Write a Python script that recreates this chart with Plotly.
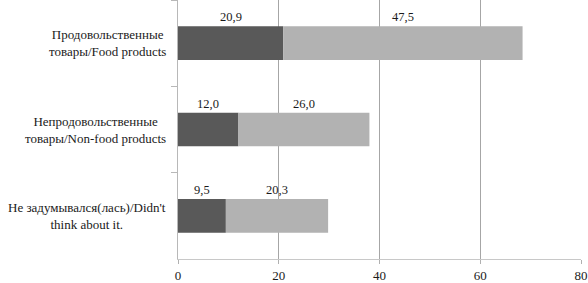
import plotly.graph_objects as go

categories = ["Продовольственные<br>товары/Food products",
              "Непродовольственные<br>товары/Non-food products",
              "Не задумывался(лась)/Didn't<br>think about it."]
series_a = [20.9, 12.0, 9.5]
series_b = [47.5, 26.0, 20.3]
x_ticks = [0, 20, 40, 60, 80]

dark = "#595959"
light = "#b2b2b2"
font = "Liberation Serif"

def fmt(v):
    return f"{v:.1f}".replace(".", ",")

fig = go.Figure()
fig.add_trace(go.Bar(y=categories, x=series_a, orientation="h",
                     marker=dict(color=dark, line=dict(width=0)), showlegend=False,
                     hoverinfo="skip"))
fig.add_trace(go.Bar(y=categories, x=series_b, base=series_a, orientation="h",
                     marker=dict(color=light, line=dict(width=0)), showlegend=False,
                     hoverinfo="skip"))

annotations = []
for c, a, b in zip(categories, series_a, series_b):
    annotations.append(dict(x=a / 2, y=c, text=fmt(a), showarrow=False,
                            yshift=26, font=dict(size=12.5, color="#1a1a1a", family=font)))
    annotations.append(dict(x=a + b / 2, y=c, text=fmt(b), showarrow=False,
                            yshift=26, font=dict(size=12.5, color="#1a1a1a", family=font)))
    annotations.append(dict(x=0, xref="paper", y=c, text=c, showarrow=False,
                            xanchor="right", align="center", xshift=-10,
                            font=dict(size=13, color="#1a1a1a", family=font)))

fig.update_layout(
    width=588, height=283,
    margin=dict(l=178, r=7, t=0, b=21),
    paper_bgcolor="white", plot_bgcolor="white",
    barmode="overlay", bargap=0.61,
    font=dict(family=font, size=13, color="#1a1a1a"),
    annotations=annotations,
    xaxis=dict(range=[0, 80], tickvals=x_ticks, showgrid=True, gridcolor="#a6a6a6",
               gridwidth=1, zeroline=False, showline=True, linecolor="#c8c8c8",
               ticks="outside", ticklen=4, tickcolor="#b0b0b0",
               tickfont=dict(size=13, family=font, color="#1a1a1a")),
    yaxis=dict(categoryorder="array", categoryarray=categories, autorange="reversed",
               showticklabels=False, showline=True, linecolor="#b8b8b8",
               ticks="outside", tickson="boundaries", ticklen=6, tickcolor="#b8b8b8",
               showgrid=False, zeroline=False),
)

fig.write_html("out.html", config={"displayModeBar": False},
               post_script="document.body.style.margin='0';")
